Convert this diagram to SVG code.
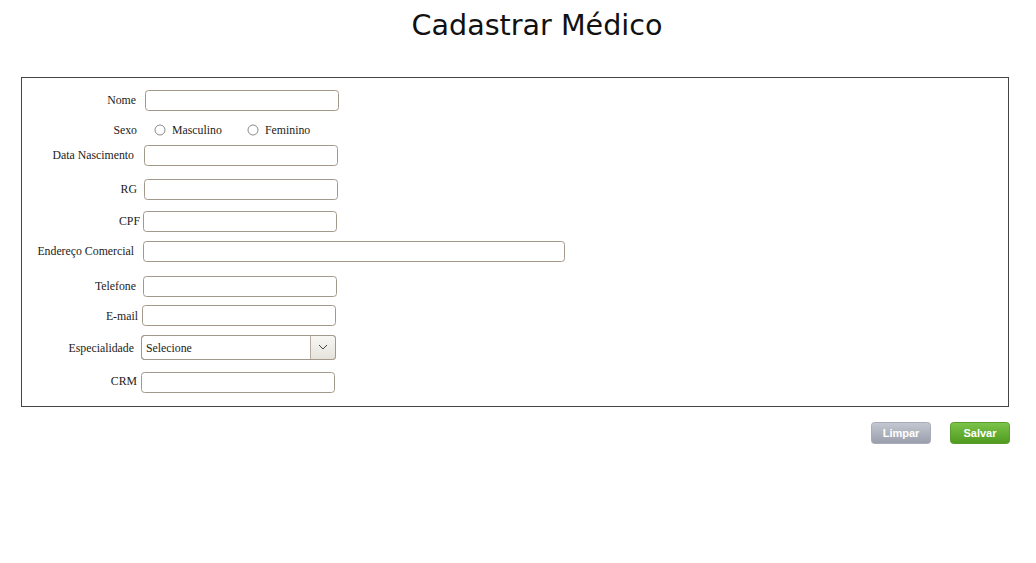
<svg xmlns="http://www.w3.org/2000/svg" width="1036" height="563" viewBox="0 0 1036 563">
<defs>
<linearGradient id="gGray" x1="0" y1="0" x2="0" y2="1"><stop offset="0" stop-color="#c4c8d2"/><stop offset="1" stop-color="#9a9eab"/></linearGradient>
<linearGradient id="gGreen" x1="0" y1="0" x2="0" y2="1"><stop offset="0" stop-color="#7cc44a"/><stop offset="1" stop-color="#4f9a1e"/></linearGradient>
<linearGradient id="gSel" x1="0" y1="0" x2="0" y2="1"><stop offset="0" stop-color="#f8f7f4"/><stop offset="1" stop-color="#e6e3dc"/></linearGradient>
</defs>
<style>
.lbl{font-family:"Liberation Serif",serif;font-size:11.8px;fill:#222;text-anchor:end}
.txt{font-family:"Liberation Serif",serif;font-size:11.8px;fill:#222}
.inp{fill:#fff;stroke:#a3998b;stroke-width:1}
.rad{fill:#fff;stroke:#8a8a8a;stroke-width:1}
.btn{font-family:"Liberation Sans",Arial,sans-serif;font-size:11px;font-weight:bold;fill:#fff;text-anchor:middle}
</style>
<rect width="1036" height="563" fill="#fff"/>
<text x="537" y="35" font-family="DejaVu Sans,sans-serif" font-size="28.6" fill="#111" text-anchor="middle">Cadastrar Médico</text>
<rect x="21.5" y="77.5" width="987" height="329" fill="none" stroke="#444" stroke-width="1"/>
<g id="nome"><text class="lbl" x="136" y="104">Nome</text><rect class="inp" x="145.5" y="90.5" width="193" height="20" rx="3"/></g>
<g id="sexo"><text class="lbl" x="137" y="134">Sexo</text>
<circle class="rad" cx="160" cy="130" r="5"/><text class="txt" x="172" y="134">Masculino</text>
<circle class="rad" cx="253" cy="130" r="5"/><text class="txt" x="265" y="134">Feminino</text></g>
<g id="nasc"><text class="lbl" x="134" y="159">Data Nascimento</text><rect class="inp" x="144.5" y="145.5" width="193" height="20" rx="3"/></g>
<g id="rg"><text class="lbl" x="137" y="193">RG</text><rect class="inp" x="144.5" y="179.5" width="193" height="20" rx="3"/></g>
<g id="cpf"><text class="lbl" x="140" y="225">CPF</text><rect class="inp" x="143.5" y="211.5" width="193" height="20" rx="3"/></g>
<g id="endereco"><text class="lbl" x="134" y="255">Endereço Comercial</text><rect class="inp" x="143.5" y="241.5" width="421" height="20" rx="3"/></g>
<g id="telefone"><text class="lbl" x="136" y="290">Telefone</text><rect class="inp" x="143.5" y="276.5" width="193" height="20" rx="3"/></g>
<g id="email"><text class="lbl" x="138" y="320">E-mail</text><rect class="inp" x="142.5" y="305.5" width="193" height="20" rx="3"/></g>
<g id="especialidade"><text class="lbl" x="134" y="352">Especialidade</text>
<rect class="inp" x="141.5" y="335.5" width="194" height="24" rx="3"/>
<path d="M310.5 336 H332.5 Q335 336 335 339 V356 Q335 359 332.5 359 H310.5 Z" fill="url(#gSel)"/>
<rect x="141.5" y="335.5" width="194" height="24" rx="3" fill="none" stroke="#a3998b"/>
<line x1="310.5" y1="336" x2="310.5" y2="359" stroke="#b5ad9f"/>
<path d="M319 345 L323 349 L327 345" fill="none" stroke="#444" stroke-width="1"/>
<text class="txt" x="146" y="352">Selecione</text></g>
<g id="crm"><text class="lbl" x="137" y="385">CRM</text><rect class="inp" x="141.5" y="372.5" width="193" height="20" rx="3"/></g>
<g id="limpar"><rect x="871.5" y="422.5" width="59" height="21" rx="3" fill="url(#gGray)" stroke="#a8acb6"/><text class="btn" x="901" y="437">Limpar</text></g>
<g id="salvar"><rect x="950.5" y="422.5" width="59" height="21" rx="3" fill="url(#gGreen)" stroke="#5a9c2c"/><text class="btn" x="980" y="437">Salvar</text></g>
</svg>
